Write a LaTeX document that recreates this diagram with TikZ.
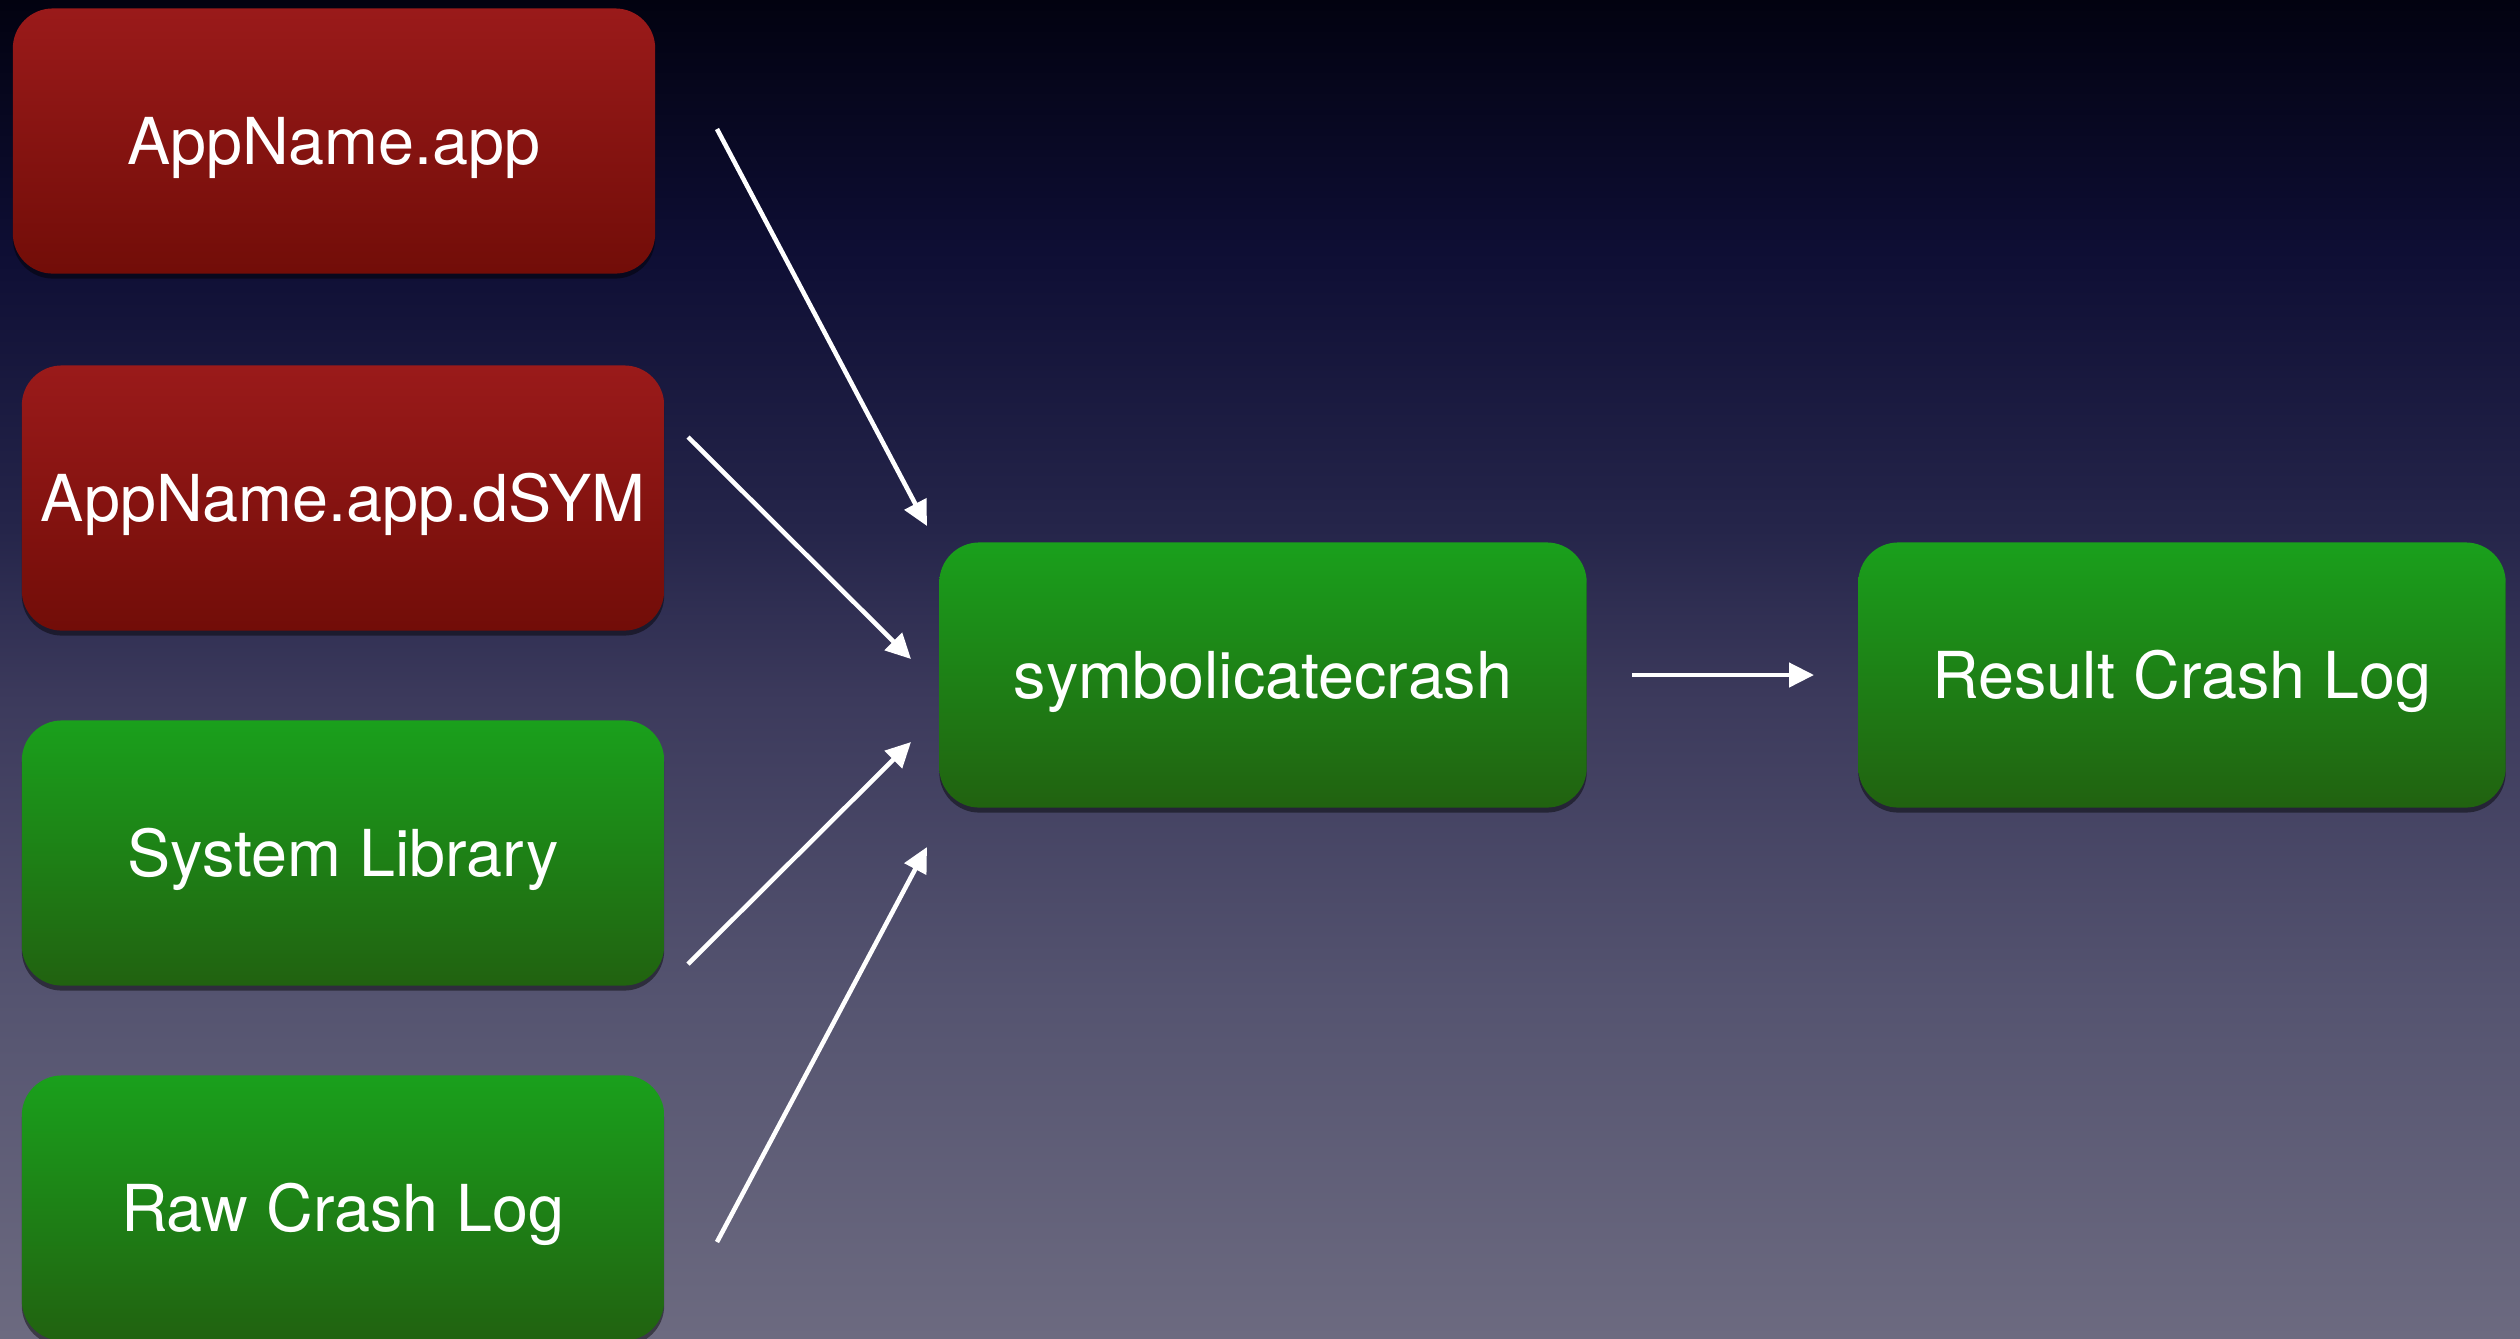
\documentclass[tikz,border=0pt]{standalone}
\usepackage{fontspec}
\setmainfont{TeX Gyre Heros}
\usetikzlibrary{arrows.meta,shadows}
\definecolor{bgA}{HTML}{6C6A80}
\definecolor{bgB}{HTML}{555470}
\definecolor{bgC}{HTML}{3C3A5C}
\definecolor{bgD}{HTML}{25254A}
\definecolor{bgE}{HTML}{0E0E34}
\definecolor{bgF}{HTML}{020210}
\definecolor{redtop}{HTML}{9A1A1A}
\definecolor{redbot}{HTML}{720D08}
\definecolor{greentop}{HTML}{1AA01C}
\definecolor{greenbot}{HTML}{216210}
\pgfdeclareverticalshading{bgshade}{100bp}{color(0bp)=(bgA); color(25bp)=(bgA); color(37.63bp)=(bgB); color(48.84bp)=(bgC); color(55.2bp)=(bgD); color(65.66bp)=(bgE); color(75bp)=(bgF); color(100bp)=(bgF)}
\tikzset{
  box/.style={rounded corners=0.4cm, minimum width=6.42cm, minimum height=2.65cm,
    text=white, font=\fontsize{18.4}{22}\selectfont, text height=13.2pt, text depth=0pt,
    drop shadow={fill=black, opacity=0.45, shadow xshift=0cm, shadow yshift=-0.05cm}},
  redbox/.style={box, top color=redtop, bottom color=redbot},
  greenbox/.style={box, top color=greentop, bottom color=greenbot},
  conn/.style={draw=white, line width=1.3pt, -{Triangle[length=0.25cm,width=0.24cm]}}
}
\begin{document}
\begin{tikzpicture}[x=0.01cm, y=-0.01cm]
\useasboundingbox (0,0) rectangle (2520,1338);
\clip (0,0) rectangle (2520,1338);
\shade[shading=bgshade] (0,0) rectangle (2520,1338);
\node[redbox] (app) at (334,141) {AppName.app};
\node[redbox] (dsym) at (343,498) {AppName.app.dSYM};
\node[greenbox] (syslib) at (343,853) {System Library};
\node[greenbox] (raw) at (343,1208) {Raw Crash Log};
\node[greenbox, minimum width=6.47cm] (sym) at (1263,675) {symbolicatecrash};
\node[greenbox, minimum width=6.47cm] (res) at (2182,675) {Result Crash Log};
\coordinate (a1s) at (717,129);
\coordinate (a1e) at (927,526);
\coordinate (a2s) at (688,437);
\coordinate (a2e) at (911,659);
\coordinate (a3s) at (688,964);
\coordinate (a3e) at (911,742);
\coordinate (a4s) at (717,1242);
\coordinate (a4e) at (927,847);
\coordinate (a5s) at (1632,675);
\coordinate (a5e) at (1814,675);
\draw[conn] (a1s) -- (a1e);
\draw[conn] (a2s) -- (a2e);
\draw[conn] (a3s) -- (a3e);
\draw[conn] (a4s) -- (a4e);
\draw[conn] (a5s) -- (a5e);
\end{tikzpicture}
\end{document}
